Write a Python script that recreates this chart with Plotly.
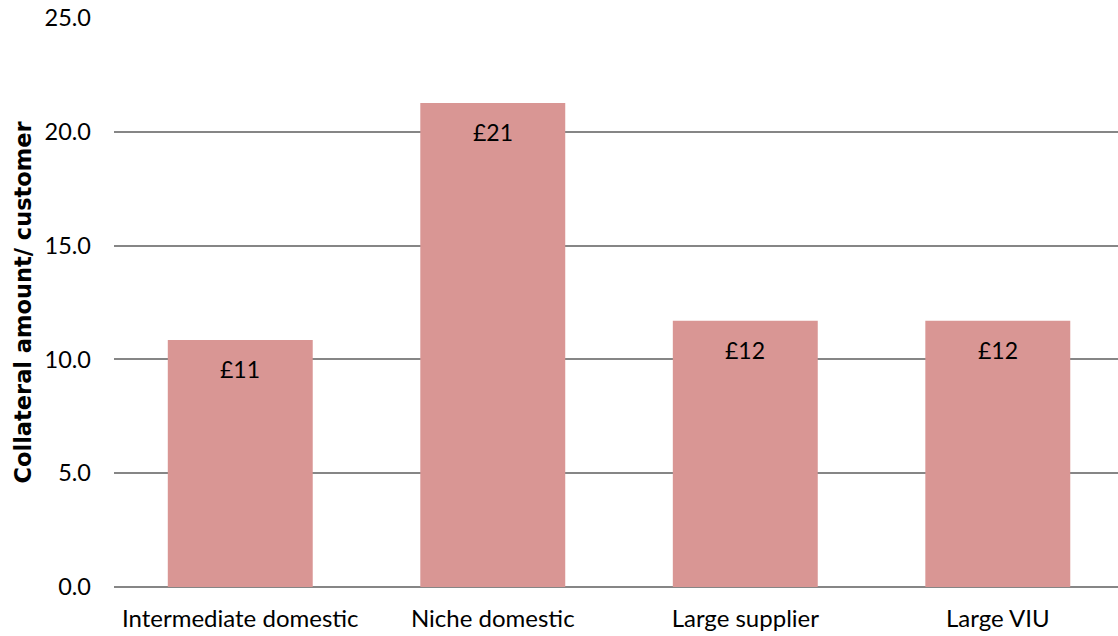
import plotly.graph_objects as go

categories = ["Intermediate domestic", "Niche domestic", "Large supplier", "Large VIU"]
values = [10.85, 21.27, 11.7, 11.7]
labels = ["£11", "£21", "£12", "£12"]
y_ticks = [0, 5, 10, 15, 20, 25]
y_ticktext = ["0.0", "5.0", "10.0", "15.0", "20.0", "25.0"]

font_main = "Gill Sans, Gill Sans MT, Lato, sans-serif"

fig = go.Figure()
fig.add_trace(go.Bar(
    x=list(range(len(categories))), y=values,
    width=0.574,
    marker=dict(color="#D99694", line=dict(width=0)),
    hoverinfo="skip",
))

for i, (v, lab) in enumerate(zip(values, labels)):
    fig.add_annotation(x=i, y=v, text=lab, showarrow=False, yanchor="top", yshift=-13,
                       font=dict(family=font_main, size=23, color="#000000"))

fig.update_layout(
    width=1118, height=636,
    margin=dict(l=114, r=0, t=18, b=49),
    plot_bgcolor="white", paper_bgcolor="white",
    showlegend=False,
    xaxis=dict(
        tickmode="array", tickvals=list(range(len(categories))), ticktext=categories,
        range=[-0.5, 3.476], showgrid=False, zeroline=False,
        showline=False, ticks="",
        tickfont=dict(family=font_main, size=24, color="#000000"),
        ticklabelstandoff=15,
    ),
    yaxis=dict(
        range=[0, 25], tickmode="array", tickvals=y_ticks, ticktext=y_ticktext,
        showgrid=True, gridcolor="#868686", gridwidth=1.6,
        zeroline=True, zerolinecolor="#868686", zerolinewidth=1.6,
        ticks="", showline=False,
        tickfont=dict(family=font_main, size=23.5, color="#000000"),
        ticklabelstandoff=22,
        title=dict(text="<b>Collateral amount/ customer</b>", standoff=6,
                   font=dict(family="DejaVu Sans, Verdana, sans-serif", size=22.5, color="#000000")),
    ),
)

fig.write_html("out.html")
